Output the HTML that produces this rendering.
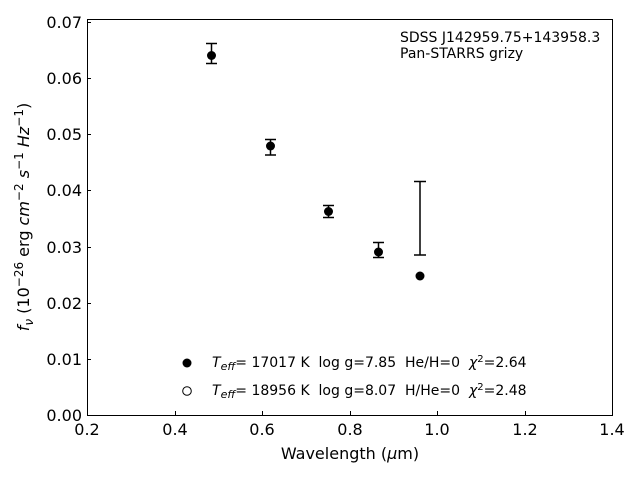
<!DOCTYPE html>
<html><head><meta charset="utf-8"><style>
html,body{margin:0;padding:0;background:#fff;}
svg{display:block;font-family:"DejaVu Sans","Liberation Sans",sans-serif;}
text{white-space:pre;}
</style></head><body>
<svg width="640" height="480" viewBox="0 0 640 480" xmlns="http://www.w3.org/2000/svg" xml:space="preserve">
<rect x="87.5" y="19.5" width="525" height="396" fill="none" stroke="#000" stroke-width="1"/>
<g stroke="#000" stroke-width="1">
<line x1="87" y1="415.5" x2="91" y2="415.5"/>
<line x1="87" y1="359.5" x2="91" y2="359.5"/>
<line x1="87" y1="303.5" x2="91" y2="303.5"/>
<line x1="87" y1="247.5" x2="91" y2="247.5"/>
<line x1="87" y1="190.5" x2="91" y2="190.5"/>
<line x1="87" y1="134.5" x2="91" y2="134.5"/>
<line x1="87" y1="78.5" x2="91" y2="78.5"/>
<line x1="87" y1="22.5" x2="91" y2="22.5"/>
<line x1="87.5" y1="415" x2="87.5" y2="411"/>
<line x1="175.5" y1="415" x2="175.5" y2="411"/>
<line x1="262.5" y1="415" x2="262.5" y2="411"/>
<line x1="350.5" y1="415" x2="350.5" y2="411"/>
<line x1="437.5" y1="415" x2="437.5" y2="411"/>
<line x1="525.5" y1="415" x2="525.5" y2="411"/>
<line x1="612.5" y1="415" x2="612.5" y2="411"/>
</g>
<g font-size="16" text-anchor="end" fill="#000">
<text x="82" y="421">0.00</text>
<text x="82" y="365">0.01</text>
<text x="82" y="309">0.02</text>
<text x="82" y="253">0.03</text>
<text x="82" y="196">0.04</text>
<text x="82" y="140">0.05</text>
<text x="82" y="84">0.06</text>
<text x="82" y="28">0.07</text>
</g>
<g font-size="16" text-anchor="middle" fill="#000">
<text x="87" y="435">0.2</text>
<text x="175" y="435">0.4</text>
<text x="262" y="435">0.6</text>
<text x="350" y="435">0.8</text>
<text x="437" y="435">1.0</text>
<text x="525" y="435">1.2</text>
<text x="612" y="435">1.4</text>
<text x="350" y="459" font-size="16">Wavelength (<tspan font-style="italic">μ</tspan>m)</text>
</g>
<text transform="translate(29,217) rotate(-90)" font-size="16" text-anchor="middle"><tspan font-style="italic">f</tspan><tspan font-style="italic" font-size="12" dy="4">ν</tspan><tspan dy="-4"> (10</tspan><tspan font-size="12" dy="-6">−26</tspan><tspan dy="6"> erg </tspan><tspan font-style="italic">cm</tspan><tspan font-size="12" dy="-6">−2</tspan><tspan dy="6"> </tspan><tspan font-style="italic">s</tspan><tspan font-size="12" dy="-6">−1</tspan><tspan dy="6"> </tspan><tspan font-style="italic">Hz</tspan><tspan font-size="12" dy="-6">−1</tspan><tspan dy="6">)</tspan></text>
<g stroke="#000" stroke-width="1.5">
<line x1="211.5" y1="43" x2="211.5" y2="64"/><line x1="206" y1="43.5" x2="217" y2="43.5"/><line x1="206" y1="63.5" x2="217" y2="63.5"/>
<line x1="270.5" y1="139" x2="270.5" y2="155"/><line x1="265" y1="139.5" x2="276" y2="139.5"/><line x1="265" y1="155" x2="276" y2="155"/>
<line x1="328.5" y1="205" x2="328.5" y2="218"/><line x1="323" y1="205.5" x2="334" y2="205.5"/><line x1="323" y1="217.5" x2="334" y2="217.5"/>
<line x1="378.5" y1="242" x2="378.5" y2="258"/><line x1="373" y1="242.5" x2="384" y2="242.5"/><line x1="373" y1="257.5" x2="384" y2="257.5"/>
<line x1="420" y1="181" x2="420" y2="255"/><line x1="414" y1="181.5" x2="426" y2="181.5"/><line x1="414" y1="255" x2="426" y2="255"/>
</g>
<g fill="#000">
<circle cx="211.5" cy="55.5" r="4.5"/>
<circle cx="270.5" cy="146" r="4.5"/>
<circle cx="328.5" cy="211.5" r="4.5"/>
<circle cx="378.5" cy="252" r="4.5"/>
<circle cx="420" cy="276" r="4.5"/>
<circle cx="187" cy="363" r="4.5"/>
</g>
<circle cx="187" cy="391" r="4.3" fill="#fff" stroke="#000" stroke-width="1"/>
<g font-size="14" fill="#000">
<text x="400" y="42">SDSS J142959.75+143958.3</text>
<text x="400" y="58">Pan-STARRS grizy</text>
<text x="212" y="367"><tspan font-style="italic">T</tspan><tspan font-style="italic" font-size="11" dy="3">eff</tspan><tspan dy="-3">= 17017 K  log g=7.85  He/H=0  </tspan><tspan font-style="italic">χ</tspan><tspan font-size="10" dy="-5">2</tspan><tspan dy="5">=2.64</tspan></text>
<text x="212" y="395"><tspan font-style="italic">T</tspan><tspan font-style="italic" font-size="11" dy="3">eff</tspan><tspan dy="-3">= 18956 K  log g=8.07  H/He=0  </tspan><tspan font-style="italic">χ</tspan><tspan font-size="10" dy="-5">2</tspan><tspan dy="5">=2.48</tspan></text>
</g>
</svg>
</body></html>
